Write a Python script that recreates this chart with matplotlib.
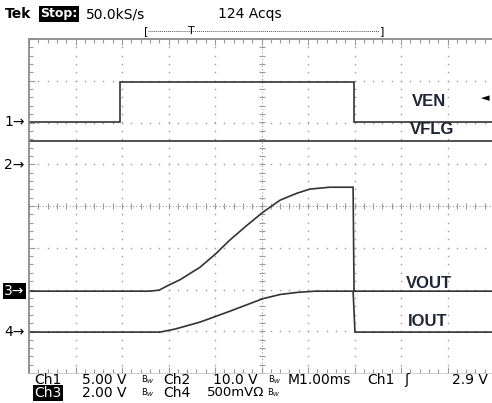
import matplotlib
matplotlib.use("Agg")
from matplotlib import pyplot as plt
import numpy as np

W, H = 492, 403

# time in ms from left edge of screen (M1.00ms / div)
ven_t = [0.0, 1.96, 1.96, 6.99, 6.99, 10.0]
ven_v = [0.0, 0.0, 4.8, 4.8, 0.0, 0.0]

vflg_t = [0.0, 10.0]
vflg_v = [5.75, 5.75]

vout_t = [0.0, 2.60, 2.80, 2.97, 3.25, 3.68, 4.02, 4.32, 4.69, 5.03, 5.40, 5.76, 6.04, 6.47, 6.97, 6.99, 10.0]
vout_v = [0.0, 0.0, 0.05, 0.25, 0.55, 1.15, 1.80, 2.45, 3.16, 3.78, 4.36, 4.69, 4.89, 4.98, 4.98, 0.0, 0.0]

iout_t = [0.0, 2.82, 3.14, 3.68, 4.32, 5.03, 5.40, 5.76, 6.15, 6.97, 7.01, 10.0]
iout_a = [0.0, 0.0, 0.036, 0.12, 0.25, 0.40, 0.45, 0.475, 0.49, 0.49, 0.0, 0.0]

# channel settings: (volts per div, ground position in div)
ch_scale = [5.0, 10.0, 2.0, 0.5]
ch_pos = [2.01, 0.98, -2.04, -3.02]

fig = plt.figure(figsize=(W / 100, H / 100), dpi=100)
fig.patch.set_facecolor("white")
ax = fig.add_axes([29 / W, 1 - 373 / H, 465 / W, 334 / H])
ax.set_xlim(0, 10)
ax.set_ylim(-4, 4)

grid_c = "#9a9a9a"
minor_x = np.arange(0, 10.001, 0.2)
minor_y = np.arange(-4, 4.001, 0.2)
for xv in range(1, 10):
    if xv == 5:
        continue
    ax.plot(np.full_like(minor_y, xv), minor_y, ls="none", marker="s", ms=1.0, color=grid_c, mec="none")
for yv in range(-3, 4):
    if yv == 0:
        continue
    ax.plot(minor_x, np.full_like(minor_x, yv), ls="none", marker="s", ms=1.0, color=grid_c, mec="none")

# center crosshair with ticks
ax.plot([0, 10], [0, 0], ls=(0, (1, 2)), lw=0.8, color=grid_c)
ax.plot([5, 5], [-4, 4], ls=(0, (1, 2)), lw=0.8, color=grid_c)
ax.plot(minor_x, np.zeros_like(minor_x), ls="none", marker="|", ms=4, mew=0.8, color=grid_c)
ax.plot(np.full_like(minor_y, 5), minor_y, ls="none", marker="_", ms=4, mew=0.8, color=grid_c)

for s in ["left", "top"]:
    ax.spines[s].set_color("#8a8a8a")
    ax.spines[s].set_linewidth(1.3)
ax.spines["bottom"].set_color("#c8c8c8")
ax.spines["bottom"].set_linewidth(0.6)
ax.spines["right"].set_visible(False)
ax.set_xticks(range(0, 11))
ax.set_yticks(range(-4, 5))
ax.set_xticks(minor_x, minor=True)
ax.set_yticks(minor_y, minor=True)
ax.tick_params(which="both", direction="in", top=True, bottom=True, left=True, right=False,
               labelbottom=False, labelleft=False, color=grid_c)
ax.tick_params(which="major", length=4, width=0.8)
ax.tick_params(which="minor", length=3, width=0.8)

tr_c = "#333333"


def trace(t, v, ch):
    y = np.array(v) / ch_scale[ch] + ch_pos[ch]
    ax.plot(t, y, color=tr_c, lw=1.2, solid_joinstyle="miter")


trace(ven_t, ven_v, 0)
trace(vflg_t, vflg_v, 1)
trace(vout_t, vout_v, 2)
trace(iout_t, iout_a, 3)


def ftext(x, y, s, **kw):
    kw.setdefault("va", "center")
    kw.setdefault("fontsize", 10)
    fig.text(x / W, 1 - y / H, s, **kw)


inv = dict(boxstyle="square,pad=0.1", fc="black", ec="none")

# header
ftext(5, 14, "Tek", fontweight="bold")
ftext(40, 14, "Stop:", fontsize=9, fontweight="bold", color="white", bbox=inv)
ftext(86, 14, "50.0kS/s")
ftext(218, 14, "124 Acqs")
ftext(144, 31, "[", fontsize=8)
ftext(380, 31, "]", fontsize=8)
fig.lines.append(plt.Line2D([148 / W, 379 / W], [1 - 31 / H, 1 - 31 / H], transform=fig.transFigure,
                            ls=(0, (1, 1)), lw=0.7, color="#555555"))
ftext(191, 31, "T", fontsize=8, ha="center")

# channel markers
ftext(4, 122, "1\u2192")
ftext(4, 165, "2\u2192")
ftext(4, 291, "3\u2192", color="white", bbox=inv)
ftext(4, 332, "4\u2192")
ftext(481, 98, "\u25c4", fontsize=8)

# signal labels
lab = dict(fontsize=12, fontweight="bold", family="Liberation Sans", color="#1f2535")
ftext(412, 102, "VEN", **lab)
ftext(410, 130, "VFLG", **lab)
ftext(406, 283, "VOUT", **lab)
ftext(408, 321, "IOUT", **lab)

# footer
ftext(34, 380, "Ch1")
ftext(82, 380, "5.00 V")
ftext(141, 380, "B$_{W}$", fontsize=6)
ftext(163, 380, "Ch2")
ftext(213, 380, "10.0 V")
ftext(268, 380, "B$_{W}$", fontsize=6)
ftext(288, 380, "M1.00ms")
ftext(367, 380, "Ch1")
ftext(404, 380, "\u0283", fontsize=10)
ftext(452, 380, "2.9 V")

ftext(34, 393, "Ch3", color="white", bbox=inv)
ftext(82, 393, "2.00 V")
ftext(141, 393, "B$_{W}$", fontsize=6)
ftext(163, 393, "Ch4")
ftext(207, 393, "500mV\u03a9", fontsize=9.5)
ftext(267, 393, "B$_{W}$", fontsize=6)

fig.savefig("out.png", dpi=100)
